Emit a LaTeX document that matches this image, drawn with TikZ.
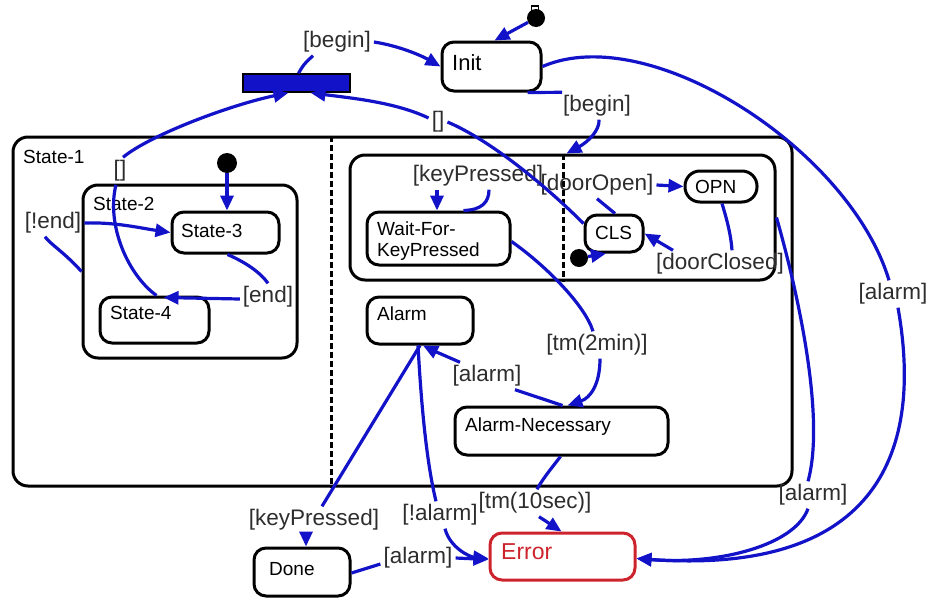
\documentclass[tikz,border=0pt]{standalone}
\usepackage{fontspec}
\setmainfont{Liberation Sans}
\usetikzlibrary{arrows.meta}

\definecolor{trans}{RGB}{18,18,200}
\definecolor{errred}{RGB}{205,35,45}
\definecolor{guard}{RGB}{45,45,45}

\begin{document}
\begin{tikzpicture}[x=1pt,y=-1pt,
  statebox/.style={draw=black, line width=3pt, rounded corners=12pt, inner sep=0pt},
  region/.style={draw=black, line width=3pt, rounded corners=15pt, inner sep=0pt},
  stxt/.style={font=\fontsize{19}{21}\selectfont, inner sep=0pt, anchor=west, text height=13.6pt, text depth=0pt},
  bigtxt/.style={stxt, font=\fontsize{22}{24}\selectfont, text height=15.8pt},
  guardlbl/.style={font=\fontsize{22.5}{24}\selectfont, text=guard, inner sep=3pt, text height=16.3pt, text depth=4.7pt},
  trline/.style={draw=trans, line width=3.2pt},
  trarrow/.style={trline, -{Triangle[length=15pt,width=13pt]}},
  initdot/.style={circle, fill=black, inner sep=0pt, minimum size=18pt},
  divider/.style={draw=black, line width=3pt, dash pattern=on 6pt off 3pt},
]
\useasboundingbox (0,0) rectangle (930,600);

% ---------- composite states ----------
\node[region, minimum width=779pt, minimum height=349pt] (State1) at (402.5,311.5) {};
\node[region, minimum width=214pt, minimum height=173pt] (State2) at (190,271.5) {};
\node[region, minimum width=425pt, minimum height=125pt] (inner) at (562.5,217.5) {};
\draw[divider] (State1.north -| 331,0) -- (State1.south -| 331,0);
\draw[divider] (inner.north -| 563,0) -- (inner.south -| 563,0);
\node[stxt] (State1T) at (23,157) {State-1};
\node[stxt] (State2T) at (93,204) {State-2};

% ---------- simple states ----------
\node[statebox, minimum width=99pt, minimum height=49pt] (Init) at (491.5,66.5) {};
\node[bigtxt] (InitT) at (452,63) {Init};
\node[statebox, minimum width=107pt, minimum height=41pt] (State3) at (225.5,232.5) {};
\node[stxt] (State3T) at (181,231) {State-3};
\node[statebox, minimum width=109pt, minimum height=46pt] (State4) at (154.5,320) {};
\node[stxt] (State4T) at (110,313) {State-4};
\node[statebox, minimum width=143pt, minimum height=53pt] (Wait) at (438.5,238.5) {};
\node[stxt] (WaitT1) at (377,229) {Wait-For-};
\node[stxt] (WaitT2) at (377,250) {KeyPressed};
\node[statebox, minimum width=58pt, minimum height=37pt] (CLS) at (614,233.5) {};
\node[stxt] (CLST) at (595,233) {CLS};
\node[statebox, rounded corners=15pt, minimum width=72pt, minimum height=31pt] (OPN) at (721,186.5) {};
\node[stxt] (OPNT) at (695,187) {OPN};
\node[statebox, minimum width=106pt, minimum height=47pt] (Alarm) at (420,320.5) {};
\node[stxt] (AlarmT) at (377,314) {Alarm};
\node[statebox, minimum width=213pt, minimum height=48pt] (AlarmNec) at (561.5,431) {};
\node[stxt] (AlarmNecT) at (465,425) {Alarm-Necessary};
\node[statebox, minimum width=96pt, minimum height=48pt] (Done) at (302,572) {};
\node[stxt] (DoneT) at (269,569) {Done};
\node[statebox, draw=errred, minimum width=145pt, minimum height=47pt] (Error) at (562.5,556.5) {};
\node[bigtxt, text=errred, font=\fontsize{23}{25}\selectfont] (ErrorT) at (501,552) {Error};

% ---------- synchronisation bar and initial pseudo-states ----------
\node[fill=trans, draw=black, line width=1.5pt, minimum width=107pt, minimum height=18pt, inner sep=0pt] (bar) at (296.5,83) {};
\node[draw=black, fill=white, line width=1.2pt, minimum width=7pt, minimum height=6pt, inner sep=0pt] (dot1cap) at (535,9) {};
\node[initdot] (dot1) at (536,18) {};
\node[initdot, minimum size=20pt] (dot2) at (227,163) {};
\node[initdot] (dot3) at (579,258) {};

% ---------- guard labels ----------
\node[guardlbl] (lbBegin1) at (337,42) {[begin]};
\node[guardlbl] (lbBegin2) at (597,106) {[begin]};
\node[guardlbl] (lbEmpty1) at (438,122) {[]};
\node[guardlbl] (lbEmpty2) at (120,171) {[]};
\node[guardlbl] (lbNotEnd) at (53,223) {[!end]};
\node[guardlbl] (lbEnd) at (268,297) {[end]};
\node[guardlbl] (lbKey1) at (478,176) {[keyPressed]};
\node[guardlbl] (lbDoorOpen) at (597,185) {[doorOpen]};
\node[guardlbl] (lbDoorClosed) at (720,264) {[doorClosed]};
\node[guardlbl] (lbTm2) at (597,345) {[tm(2min)]};
\node[guardlbl] (lbAlarm1) at (487,376) {[alarm]};
\node[guardlbl] (lbKey2) at (314,520) {[keyPressed]};
\node[guardlbl] (lbNotAlarm) at (440,515) {[!alarm]};
\node[guardlbl] (lbTm10) at (535,503) {[tm(10sec)]};
\node[guardlbl] (lbAlarm2) at (418,558) {[alarm]};
\node[guardlbl] (lbAlarm3) at (893,294) {[alarm]};
\node[guardlbl] (lbAlarm4) at (813,495) {[alarm]};

% ---------- transitions ----------
\draw[trarrow] (dot1) -- ([xshift=3pt]Init.north);
\draw[trline] ([xshift=2pt]bar.north) .. controls (304,64) .. ([xshift=-24pt]lbBegin1.south);
\draw[trarrow] (lbBegin1.east) .. controls (400,46) and (422,56) .. (Init.west);
\draw[trline] ([xshift=36pt]Init.south) .. controls (545,93) .. ([xshift=2pt]lbBegin2.north west);
\draw[trarrow] ([xshift=2pt]lbBegin2.south) .. controls (600,130) and (588,142) .. ([xshift=4pt]inner.north);

\draw[trline] ([yshift=-10pt]CLS.north west) .. controls (545,185) and (490,140) .. (lbEmpty1.east);
\draw[trarrow] ([yshift=4pt]lbEmpty1.west) .. controls (395,102) and (350,98) .. ([xshift=14pt]bar.south);

\draw[trarrow] (dot2) -- (dot2 |- State3.north);
\draw[trline] (State2.west) .. controls (64,252) and (50,244) .. ([xshift=-8pt]lbNotEnd.south);
\draw[trarrow] (lbNotEnd.east) .. controls (115,222) and (140,228) .. (State3.west);
\draw[trline] ([xshift=2pt]State3.south) .. controls (245,262) and (260,272) .. (lbEnd.north);
\draw[trarrow] ([yshift=-2pt]lbEnd.west) -- ([xshift=9pt,yshift=-2pt]State4.north);
\draw[trline] ([xshift=2pt]State4.north) .. controls (128,275) and (106,225) .. ([xshift=-4pt]lbEmpty2.south);
\draw[trarrow] ([xshift=3pt]lbEmpty2.north) .. controls (150,135) and (230,105) .. ([xshift=-8pt]bar.south);

\draw[trline] ([xshift=25pt]Wait.north) .. controls (482,210) and (489,202) .. ([xshift=11pt]lbKey1.south);
\draw[trarrow] ([xshift=-41pt]lbKey1.south) -- ([xshift=-1.5pt]Wait.north);
\draw[trline] ([xshift=1pt]CLS.north) -- (lbDoorOpen.south);
\draw[trarrow] (lbDoorOpen.east) -- (OPN.west);
\draw[trline] ([xshift=1pt]OPN.south) .. controls (727,220) and (731,235) .. ([xshift=12pt]lbDoorClosed.north);
\draw[trarrow] ([xshift=-47pt]lbDoorClosed.north) -- (CLS.east);
\draw[trarrow] (dot3) -- ([xshift=-8pt]CLS.south);

\draw[trline] ([yshift=-3pt]Wait.east) .. controls (545,265) and (585,305) .. ([xshift=-4pt]lbTm2.north);
\draw[trarrow] ([xshift=3pt]lbTm2.south) .. controls (600,385) and (590,398) .. ([xshift=6pt]AlarmNec.north);
\draw[trline] ([xshift=1pt]AlarmNec.north) -- ([xshift=28pt]lbAlarm1.south);
\draw[trarrow] ([xshift=-27pt]lbAlarm1.north) .. controls (448,357) and (432,350) .. ([xshift=3pt]Alarm.south);

\draw[trline] (Alarm.south) -- ([xshift=8pt]lbKey2.north);
\draw[trarrow] ([xshift=-8pt]lbKey2.south) -- ([xshift=4pt]Done.north);
\draw[trline] ([xshift=-2pt]Alarm.south) .. controls (421,400) and (426,460) .. ([xshift=-4pt]lbNotAlarm.north);
\draw[trarrow] ([xshift=5pt]lbNotAlarm.south) .. controls (450,548) and (470,557) .. ([yshift=-2pt]Error.west);
\draw[trline] ([xshift=-1pt]AlarmNec.south) .. controls (550,470) and (542,480) .. ([xshift=2pt]lbTm10.north);
\draw[trarrow] ([xshift=4pt]lbTm10.south) -- ([xshift=-1pt]Error.north);
\draw[trline] ([yshift=-1pt]Done.east) -- ([yshift=-6pt]lbAlarm2.west);
\draw[trarrow] (lbAlarm2.east) -- ([yshift=-3pt]Error.west);

\draw[trline] (Init.east) .. controls (650,20) and (850,150) .. ([xshift=-4pt]lbAlarm3.north);
\draw[trarrow] ([xshift=5pt]lbAlarm3.south) .. controls (925,460) and (870,575) .. ([yshift=-2pt]Error.east);
\draw[trline] (inner.east) .. controls (800,300) and (825,420) .. ([xshift=-5pt]lbAlarm4.north);
\draw[trarrow] ([xshift=-5pt]lbAlarm4.south) .. controls (795,545) and (720,565) .. ([yshift=-2pt]Error.east);
\end{tikzpicture}
\end{document}
